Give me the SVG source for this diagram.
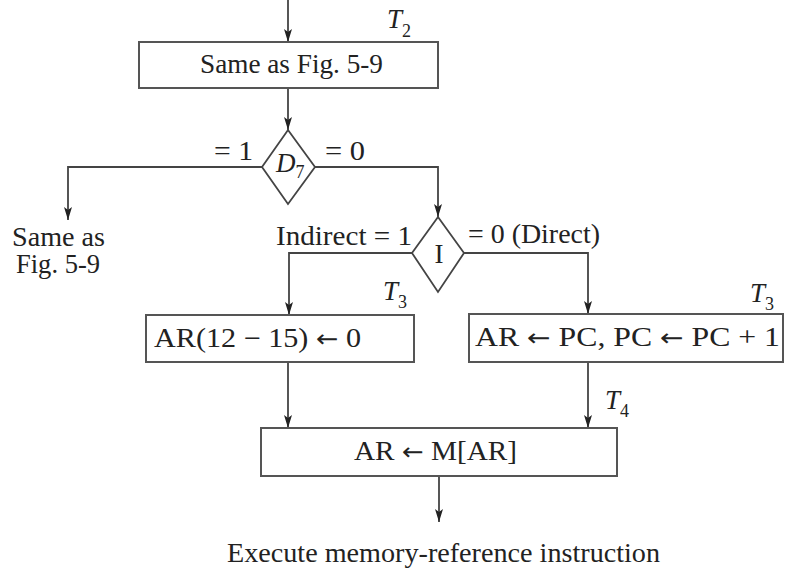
<svg xmlns="http://www.w3.org/2000/svg" width="789" height="571" viewBox="0 0 789 571">
<style>
.box{fill:#fff;stroke:#555;stroke-width:2}
.dia{fill:#fff;stroke:#444;stroke-width:1.8}
.ln{fill:none;stroke:#444;stroke-width:1.8}
text{font-family:"Liberation Serif","Times New Roman",serif;fill:#222;font-size:27px}
.it{font-style:italic}
.sub{font-size:18px}
.mid{text-anchor:middle}
.arr{font-family:"DejaVu Sans",sans-serif;font-size:24px}
</style>
<defs>
<marker id="ah" markerUnits="userSpaceOnUse" markerWidth="14" markerHeight="10" refX="13" refY="4" orient="auto">
<path d="M0,0 L13,4 L0,8 L3,4 z" fill="#222"/>
</marker>
</defs>
<rect width="789" height="571" fill="#fff"/>
<g id="connectors">
<path class="ln" d="M288,0 V42" marker-end="url(#ah)"/>
<path class="ln" d="M288,88 V130" marker-end="url(#ah)"/>
<path class="ln" d="M262,167 H68 V220" marker-end="url(#ah)"/>
<path class="ln" d="M315,167 H438 V217" marker-end="url(#ah)"/>
<path class="ln" d="M412,253 H289 V315" marker-end="url(#ah)"/>
<path class="ln" d="M464,253 H588 V314" marker-end="url(#ah)"/>
<path class="ln" d="M288,362 V428" marker-end="url(#ah)"/>
<path class="ln" d="M588,362 V428" marker-end="url(#ah)"/>
<path class="ln" d="M439,476 V522" marker-end="url(#ah)"/>
</g>
<g id="box1">
<rect class="box" x="139" y="42" width="299" height="46"/>
<text x="200" y="73" textLength="183" lengthAdjust="spacingAndGlyphs">Same as Fig. 5-9</text>
<text class="it" x="387" y="28">T<tspan class="sub" font-style="normal" dy="9">2</tspan></text>
</g>
<g id="d7">
<polygon class="dia" points="288,130 315,167 288,204 262,167"/>
<text class="it" x="276" y="172" font-size="25">D<tspan class="sub" font-style="normal" dy="6">7</tspan></text>
<text x="214" y="160" textLength="39" lengthAdjust="spacingAndGlyphs">= 1</text>
<text x="325" y="160" textLength="40" lengthAdjust="spacingAndGlyphs">= 0</text>
</g>
<g id="same">
<text x="12" y="246" font-size="24" textLength="93" lengthAdjust="spacingAndGlyphs">Same as</text>
<text x="16" y="273" font-size="24" textLength="84" lengthAdjust="spacingAndGlyphs">Fig. 5-9</text>
</g>
<g id="i">
<polygon class="dia" points="438,217 464,253 438,292 412,253"/>
<text class="mid" x="439" y="263">I</text>
<text x="276" y="245" textLength="136" lengthAdjust="spacingAndGlyphs">Indirect = 1</text>
<text x="468" y="243" textLength="132" lengthAdjust="spacingAndGlyphs">= 0 (Direct)</text>
</g>
<g id="boxL">
<rect class="box" x="146" y="315" width="268" height="47"/>
<text x="154" y="347" textLength="207" lengthAdjust="spacingAndGlyphs">AR(12 − 15) <tspan class="arr">←</tspan> 0</text>
<text class="it" x="383" y="300">T<tspan class="sub" font-style="normal" dy="8">3</tspan></text>
</g>
<g id="boxR">
<rect class="box" x="469" y="314" width="314" height="48"/>
<text x="475" y="346" textLength="305" lengthAdjust="spacingAndGlyphs">AR <tspan class="arr">←</tspan> PC, PC <tspan class="arr">←</tspan> PC + 1</text>
<text class="it" x="750" y="302">T<tspan class="sub" font-style="normal" dy="8">3</tspan></text>
</g>
<g id="box3">
<rect class="box" x="261" y="428" width="356" height="48"/>
<text x="354" y="460" textLength="163" lengthAdjust="spacingAndGlyphs">AR <tspan class="arr">←</tspan> M[AR]</text>
<text class="it" x="605" y="409">T<tspan class="sub" font-style="normal" dy="8">4</tspan></text>
</g>
<g id="exec">
<text x="227" y="562" textLength="433" lengthAdjust="spacingAndGlyphs">Execute memory-reference instruction</text>
</g>
</svg>
